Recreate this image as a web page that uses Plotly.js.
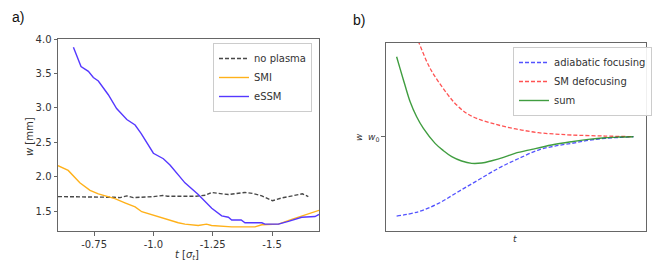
<!DOCTYPE html>
<html>
<head>
<meta charset="utf-8">
<script src="https://cdn.plot.ly/plotly-3.0.1.min.js"></script>
<style>html,body{margin:0;padding:0;background:#fff;}#chart{width:654px;height:268px;}</style>
</head>
<body>
<div id="chart"></div>
<script>
// Panel a) data
const noPlasmaT = [-0.598,-0.70,-0.80,-0.835,-0.86,-0.888,-0.915,-0.97,-1.0,-1.04,-1.06,-1.10,-1.18,-1.22,-1.245,-1.29,-1.316,-1.386,-1.42,-1.457,-1.502,-1.541,-1.59,-1.628,-1.653];
const noPlasmaW = [1.71,1.71,1.71,1.70,1.695,1.72,1.695,1.70,1.71,1.725,1.715,1.715,1.715,1.73,1.77,1.75,1.74,1.77,1.755,1.72,1.65,1.69,1.72,1.75,1.71];
const smiT = [-0.598,-0.62,-0.641,-0.69,-0.733,-0.768,-0.803,-0.838,-0.88,-0.923,-0.951,-1.007,-1.049,-1.105,-1.133,-1.189,-1.224,-1.245,-1.33,-1.428,-1.457,-1.527,-1.583,-1.64,-1.698];
const smiW = [2.16,2.13,2.09,1.91,1.80,1.75,1.71,1.68,1.62,1.56,1.49,1.43,1.39,1.33,1.31,1.29,1.31,1.29,1.27,1.27,1.30,1.31,1.38,1.45,1.51];
const essmT = [-0.663,-0.695,-0.726,-0.747,-0.768,-0.81,-0.845,-0.888,-0.923,-0.948,-1.0,-1.042,-1.07,-1.098,-1.133,-1.189,-1.218,-1.246,-1.288,-1.316,-1.33,-1.37,-1.386,-1.457,-1.47,-1.527,-1.569,-1.625,-1.681,-1.698];
const essmW = [3.88,3.60,3.53,3.44,3.39,3.19,2.99,2.83,2.75,2.63,2.34,2.26,2.17,2.05,1.91,1.74,1.64,1.54,1.43,1.41,1.37,1.37,1.33,1.33,1.31,1.31,1.35,1.41,1.42,1.45];
const aTickVals = [-0.75,-1.0,-1.25,-1.5];
const aTickText = ['-0.75','-1.0','-1.25','-1.5'];
const aYTicks = [1.5,2.0,2.5,3.0,3.5,4.0];

// Panel b) schematic data (arbitrary units, w0 = 0)
const adiaT = [0.42,1.26,2.03,2.79,3.56,4.33,5.10,5.87,6.51,7.15,7.79,8.44,9.01,9.53];
const adiaW = [-2.38,-2.25,-2.00,-1.65,-1.30,-0.95,-0.66,-0.40,-0.28,-0.20,-0.11,-0.05,-0.02,0.0];
const smdT = [1.06,1.26,1.71,2.35,2.73,3.12,3.50,4.01,4.59,5.23,5.87,6.51,7.15,8.44,9.53];
const smdW = [3.20,2.85,2.05,1.30,0.95,0.70,0.55,0.42,0.30,0.20,0.12,0.08,0.05,0.02,0.0];
const sumT = [0.42,0.55,0.74,0.94,1.19,1.45,1.90,2.22,2.54,2.92,3.31,3.69,4.08,4.53,4.97,5.62,6.38,7.15,7.79,8.44,9.01,9.53];
const sumW = [2.40,2.05,1.55,1.05,0.60,0.25,-0.20,-0.42,-0.60,-0.73,-0.80,-0.79,-0.72,-0.62,-0.50,-0.38,-0.25,-0.15,-0.08,-0.03,-0.01,0.0];

const FONT = 'DejaVu Sans, sans-serif';
const traces = [
  {x: noPlasmaT, y: noPlasmaW, name: 'no plasma', mode: 'lines', xaxis: 'x', yaxis: 'y',
   line: {color: 'rgba(40,40,40,0.85)', width: 1.4, dash: '4px,2px'}, legend: 'legend'},
  {x: smiT, y: smiW, name: 'SMI', mode: 'lines', xaxis: 'x', yaxis: 'y',
   line: {color: '#ffb11a', width: 1.4}, legend: 'legend'},
  {x: essmT, y: essmW, name: 'eSSM', mode: 'lines', xaxis: 'x', yaxis: 'y',
   line: {color: '#5538ff', width: 1.4}, legend: 'legend'},
  {x: adiaT, y: adiaW, name: 'adiabatic focusing', mode: 'lines', xaxis: 'x2', yaxis: 'y2',
   line: {color: 'rgba(40,40,255,0.8)', width: 1.3, dash: '4px,2px', shape: 'spline'}, legend: 'legend2'},
  {x: smdT, y: smdW, name: 'SM defocusing', mode: 'lines', xaxis: 'x2', yaxis: 'y2',
   line: {color: 'rgba(255,40,40,0.8)', width: 1.3, dash: '4px,2px', shape: 'spline'}, legend: 'legend2'},
  {x: sumT, y: sumW, name: 'sum', mode: 'lines', xaxis: 'x2', yaxis: 'y2',
   line: {color: 'rgba(30,140,30,0.85)', width: 1.4, shape: 'spline'}, legend: 'legend2'}
];

const axisCommon = {showgrid: false, zeroline: false, showline: true, mirror: true,
  linecolor: '#666', linewidth: 1, ticks: 'outside', ticklen: 3.5, tickcolor: '#666',
  tickfont: {family: FONT, size: 10, color: '#333'}};

const layout = {
  width: 654, height: 268,
  margin: {l: 0, r: 0, t: 0, b: 0},
  paper_bgcolor: '#fff', plot_bgcolor: '#fff',
  font: {family: FONT, size: 10, color: '#333'},
  xaxis: Object.assign({}, axisCommon, {domain: [58/654, 319/654], range: [-0.598, -1.698],
    tickvals: aTickVals, ticktext: aTickText, anchor: 'y'}),
  yaxis: Object.assign({}, axisCommon, {domain: [(268-231)/268, (268-39)/268], range: [1.21, 4.0],
    tickvals: aYTicks, tickformat: '.1f', anchor: 'x'}),
  xaxis2: Object.assign({}, axisCommon, {domain: [385.7/654, 645.7/654], range: [0, 10],
    showticklabels: false, ticks: '', anchor: 'y2'}),
  yaxis2: Object.assign({}, axisCommon, {domain: [(268-230.7)/268, (268-42.7)/268], range: [-2.82, 2.82],
    tickvals: [0], ticktext: ['<i>w</i><sub>0</sub>'], tickfont: {family: FONT, size: 9, color: '#333'}, anchor: 'x2'}),
  showlegend: true,
  legend: {x: 213/654, y: (268-43)/268, xanchor: 'left', yanchor: 'top',
    bgcolor: 'rgba(255,255,255,0.9)', bordercolor: '#ccc', borderwidth: 1,
    font: {family: FONT, size: 10, color: '#333'}, itemwidth: 30, tracegroupgap: 0},
  legend2: {x: 513/654, y: (268-47)/268, xanchor: 'left', yanchor: 'top',
    bgcolor: 'rgba(255,255,255,0.9)', bordercolor: '#ccc', borderwidth: 1,
    font: {family: FONT, size: 10, color: '#333'}, itemwidth: 30, tracegroupgap: 0},
  annotations: [
    {text: 'a)', x: 10/654, y: (268-17)/268, xref: 'paper', yref: 'paper', xanchor: 'left', yanchor: 'middle',
     showarrow: false, font: {family: 'Liberation Sans, Arial, sans-serif', size: 14, color: '#111'}},
    {text: 'b)', x: 351/654, y: (268-20)/268, xref: 'paper', yref: 'paper', xanchor: 'left', yanchor: 'middle',
     showarrow: false, font: {family: 'Liberation Sans, Arial, sans-serif', size: 14, color: '#111'}},
    {text: '<i>w</i> [mm]', x: 29/654, y: (268-137)/268, xref: 'paper', yref: 'paper', textangle: -90,
     xanchor: 'center', yanchor: 'middle', showarrow: false, font: {family: FONT, size: 10, color: '#333'}},
    {text: '<i>t</i> [<i>σ</i><sub><i>t</i></sub>]', x: 187/654, y: (268-255)/268, xref: 'paper', yref: 'paper',
     xanchor: 'center', yanchor: 'middle', showarrow: false, font: {family: FONT, size: 10, color: '#333'}},
    {text: '<i>w</i>', x: 359/654, y: (268-137)/268, xref: 'paper', yref: 'paper', textangle: -90,
     xanchor: 'center', yanchor: 'middle', showarrow: false, font: {family: FONT, size: 9, color: '#333'}},
    {text: '<i>t</i>', x: 515/654, y: (268-239)/268, xref: 'paper', yref: 'paper',
     xanchor: 'center', yanchor: 'middle', showarrow: false, font: {family: FONT, size: 9, color: '#333'}}
  ]
};

Plotly.newPlot('chart', traces, layout, {displayModeBar: false, staticPlot: true});
</script>
</body>
</html>
